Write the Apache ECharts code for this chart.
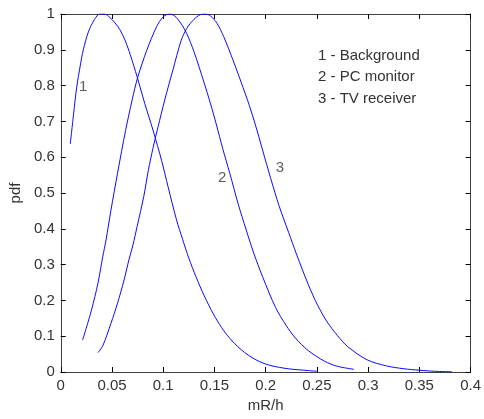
<!DOCTYPE html>
<html>
<head>
<meta charset="utf-8">
<script src="https://cdn.jsdelivr.net/npm/echarts@6/dist/echarts.min.js"></script>
<style>
html,body{margin:0;padding:0;background:#fff;}
#chart{width:484px;height:419px;}
</style>
</head>
<body>
<div id="chart"></div>
<script>
// Curve 1 - Background
const bgX = [0.0093,0.0125,0.0156,0.019,0.022,0.027,0.033,0.038,0.043,0.048,0.053,0.058,0.063,0.068,0.0745,0.082,0.090,0.0985,0.1047,0.113,0.119,0.125,0.132,0.140,0.149,0.157,0.165,0.175,0.184,0.194,0.205,0.222,0.2415,0.250];
const bgY = [0.637,0.72,0.796,0.855,0.90,0.95,0.985,1.0,1.0,0.99,0.975,0.955,0.925,0.885,0.825,0.75,0.676,0.59,0.518,0.425,0.37,0.318,0.266,0.213,0.162,0.124,0.094,0.065,0.045,0.029,0.018,0.009,0.004,0.002];
// Curve 2 - PC monitor
const pcX = [0.0213,0.030,0.0363,0.041,0.0442,0.049,0.0554,0.0633,0.0697,0.075,0.084,0.0936,0.100,0.106,0.111,0.117,0.123,0.130,0.1397,0.146,0.152,0.158,0.165,0.173,0.181,0.188,0.197,0.2097,0.220,0.229,0.2415,0.2575,0.270,0.286];
const pcY = [0.089,0.173,0.248,0.322,0.369,0.452,0.555,0.675,0.760,0.822,0.899,0.965,0.992,1.0,0.995,0.975,0.945,0.895,0.810,0.751,0.690,0.625,0.555,0.471,0.397,0.335,0.266,0.180,0.130,0.095,0.060,0.030,0.016,0.0075];
// Curve 3 - TV receiver
const tvX = [0.0363,0.041,0.049,0.0554,0.0618,0.0665,0.0705,0.0745,0.081,0.0856,0.090,0.095,0.1015,0.1095,0.1174,0.123,0.130,0.136,0.141,0.146,0.1525,0.159,0.168,0.176,0.184,0.190,0.197,0.205,0.213,0.2224,0.230,0.2415,0.251,0.260,0.270,0.280,0.299,0.318,0.335,0.350,0.365,0.382];
const tvY = [0.054,0.073,0.136,0.192,0.257,0.313,0.355,0.406,0.490,0.565,0.625,0.685,0.760,0.844,0.925,0.960,0.985,0.998,1.0,0.995,0.974,0.937,0.872,0.810,0.745,0.690,0.620,0.540,0.465,0.390,0.330,0.245,0.185,0.140,0.102,0.071,0.034,0.017,0.009,0.005,0.002,0.0005];

const xTicks = [0,0.05,0.1,0.15,0.2,0.25,0.3,0.35,0.4];
const yTicks = [0,0.1,0.2,0.3,0.4,0.5,0.6,0.7,0.8,0.9,1];
const curveLabels = ['1','2','3'];
const curveLabelPos = [[0.022,0.796],[0.1575,0.542],[0.214,0.570]];
const legendLines = ['1 - Background','2 - PC monitor','3 - TV receiver'];

function zip(xs, ys){ return xs.map((x,i)=>[x,ys[i]]); }

const font = '"Liberation Sans", Arial, sans-serif';
const axisCol = '#404040';
const textCol = '#333333';
const lineCol = '#0a0aff';

const chart = echarts.init(document.getElementById('chart'), null, {renderer:'canvas'});

function fmt(v){
  return String(Math.round(v*100)/100);
}

const baseAxis = {
  axisLine:{show:true, onZero:false, lineStyle:{color:axisCol, width:1}},
  axisTick:{show:true, inside:true, length:5, lineStyle:{color:'#000', width:1}},
  splitLine:{show:false}
};

chart.setOption({
  animation:false,
  backgroundColor:'#ffffff',
  grid:{left:57, top:14, right:8, bottom:47, containLabel:false},
  xAxis:[
    Object.assign({}, baseAxis, {
      type:'value', min:0, max:0.4, interval:0.05, position:'bottom',
      name:'mR/h', nameLocation:'middle', nameGap:26,
      nameTextStyle:{fontFamily:font, fontSize:15, color:textCol},
      axisLabel:{margin:6, fontFamily:font, fontSize:15, color:textCol, formatter:fmt}
    }),
    Object.assign({}, baseAxis, {
      type:'value', min:0, max:0.4, interval:0.05, position:'top',
      axisLabel:{show:false}
    })
  ],
  yAxis:[
    Object.assign({}, baseAxis, {
      type:'value', min:0, max:1, interval:0.1, position:'left',
      name:'pdf', nameLocation:'middle', nameGap:26,
      nameTextStyle:{fontFamily:font, fontSize:15, color:textCol},
      axisLabel:{margin:6, fontFamily:font, fontSize:15, color:textCol, formatter:fmt}
    }),
    Object.assign({}, baseAxis, {
      type:'value', min:0, max:1, interval:0.1, position:'right',
      axisLabel:{show:false}
    })
  ],
  series:[
    {type:'line', data:zip(bgX,bgY), symbol:'none', smooth:0.3, lineStyle:{color:lineCol, width:1}, silent:true},
    {type:'line', data:zip(pcX,pcY), symbol:'none', smooth:0.3, lineStyle:{color:lineCol, width:1}, silent:true},
    {type:'line', data:zip(tvX,tvY), symbol:'none', smooth:0.3, lineStyle:{color:lineCol, width:1}, silent:true},
    {type:'scatter', data:curveLabelPos.map((p,i)=>({value:p, name:curveLabels[i]})),
     symbolSize:0, silent:true,
     label:{show:true, position:'inside', formatter:p=>p.name, fontFamily:font, fontSize:15, color:textCol}}
  ],
  graphic:legendLines.map((t,i)=>({
    type:'text', left:318, top:48 + i*21.5,
    style:{text:t, font:'15px '+font, fill:textCol}
  }))
});
</script>
</body>
</html>
